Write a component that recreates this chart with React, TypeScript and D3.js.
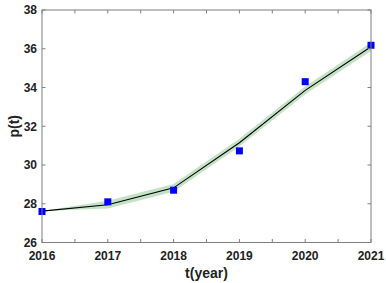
import React from "react";
import * as d3 from "d3";

const years = [2016, 2017, 2018, 2019, 2020, 2021];
const observed = [27.6, 28.1, 28.7, 30.73, 34.3, 36.18];
const fitted = [27.62, 27.95, 28.82, 31.15, 33.85, 36.1];
const lower = [27.62, 27.75, 28.62, 30.95, 33.65, 35.88];
const upper = [27.62, 28.15, 29.02, 31.35, 34.05, 36.32];
const yTicks = [26, 28, 30, 32, 34, 36, 38];
const xTicks = [2016, 2017, 2018, 2019, 2020, 2021];
const xMinor = [2016.5, 2017.5, 2018.5, 2019.5, 2020.5];

export default function App() {
  const W = 386, H = 283;
  const L = 42, R = 371, T = 10, B = 242.5;
  const x = d3.scaleLinear().domain([2016, 2021]).range([L, R]);
  const y = d3.scaleLinear().domain([26, 38]).range([B, T]);
  const area = d3.area<number>()
    .x((_, i) => x(years[i]))
    .y0((_, i) => y(lower[i]))
    .y1((_, i) => y(upper[i]));
  const line = d3.line<number>().x((_, i) => x(years[i])).y((d) => y(d));
  const axisColor = "#7f7f7f";
  const font = "'Liberation Sans', Arial, sans-serif";
  const tl = 3.5;
  return (
    <svg width={W} height={H} style={{ position: "absolute", left: 0, top: 0, background: "#fff" }}>
      <path d={area(fitted) || ""} fill="#c3e2c6" stroke="none" />
      <path d={line(fitted) || ""} fill="none" stroke="#000" strokeWidth={1.1} />
      {observed.map((v, i) => (
        <rect key={i} x={x(years[i]) - 3.5} y={y(v) - 3.5} width={7} height={7} fill="#0000ff" />
      ))}
      <rect x={L} y={T} width={R - L} height={B - T} fill="none" stroke={axisColor} strokeWidth={1} />
      {[...xTicks, ...xMinor].map((t) => (
        <g key={t}>
          <line x1={x(t)} x2={x(t)} y1={B} y2={B - tl} stroke={axisColor} />
          <line x1={x(t)} x2={x(t)} y1={T} y2={T + tl} stroke={axisColor} />
        </g>
      ))}
      {yTicks.map((t) => (
        <g key={t}>
          <line x1={L} x2={L + tl} y1={y(t)} y2={y(t)} stroke={axisColor} />
          <line x1={R} x2={R - tl} y1={y(t)} y2={y(t)} stroke={axisColor} />
          <text x={L - 5} y={y(t)} dy="0.36em" textAnchor="end" fontFamily={font} fontWeight="bold" fontSize={12} fill="#222">
            {t}
          </text>
        </g>
      ))}
      {xTicks.map((t) => (
        <text key={t} x={x(t)} y={259.5} textAnchor="middle" fontFamily={font} fontWeight="bold" fontSize={12} fill="#222">
          {t}
        </text>
      ))}
      <text x={(L + R) / 2} y={278} textAnchor="middle" fontFamily={font} fontWeight="bold" fontSize={14} fill="#222">
        t(year)
      </text>
      <text transform={`translate(19,${(T + B) / 2}) rotate(-90)`} textAnchor="middle" fontFamily={font} fontWeight="bold" fontSize={14} fill="#222">
        p(t)
      </text>
    </svg>
  );
}
